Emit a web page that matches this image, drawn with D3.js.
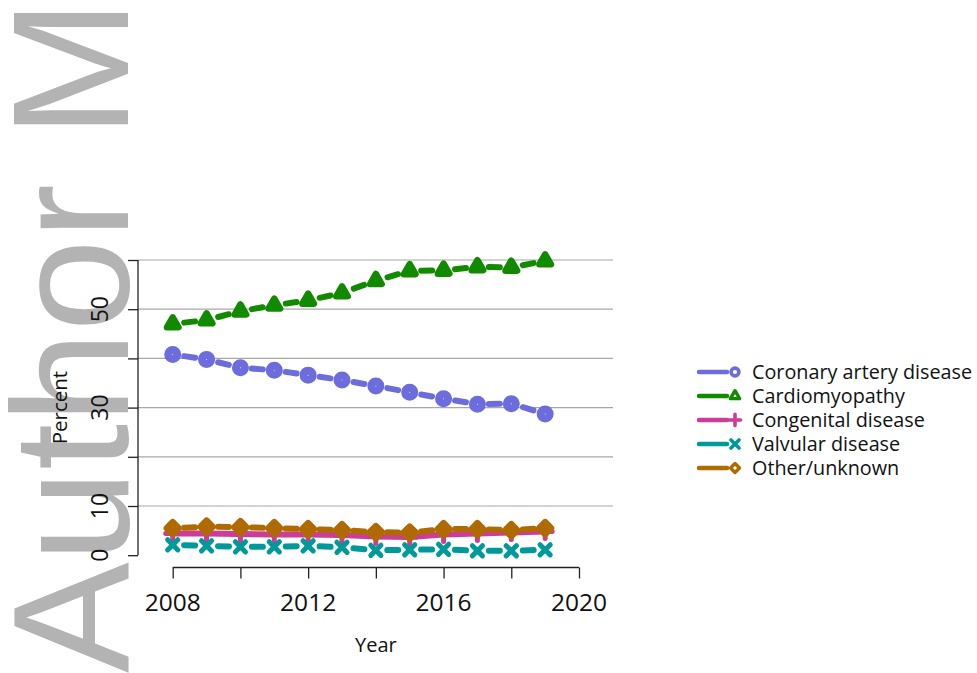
<!DOCTYPE html>
<html>
<head>
<meta charset="utf-8">
<script src="https://cdn.jsdelivr.net/npm/d3@7"></script>
<style>
  body { margin: 0; background: #ffffff; }
  svg { display: block; font-family: "Open Sans", "Noto Sans", sans-serif; }
  .watermark { font-family: "Liberation Sans", Arial, sans-serif; }
</style>
</head>
<body>
<svg id="chart" width="977" height="673"></svg>
<script>
// Share of recipients by primary diagnosis, per year
const years = [2008, 2009, 2010, 2011, 2012, 2013, 2014, 2015, 2016, 2017, 2018, 2019];
const coronary       = [40.8, 39.8, 38.1, 37.6, 36.6, 35.6, 34.4, 33.1, 31.8, 30.7, 30.8, 28.7];
const cardiomyopathy = [47.0, 47.8, 49.6, 50.8, 51.8, 53.3, 55.8, 57.8, 57.9, 58.6, 58.5, 59.8];
const congenital     = [4.4, 4.4, 4.3, 4.2, 4.2, 4.1, 3.8, 3.7, 4.2, 4.4, 4.6, 4.8];
const valvular       = [2.1, 1.9, 1.7, 1.7, 1.9, 1.6, 1.0, 1.1, 1.2, 0.9, 0.9, 1.1];
const other          = [5.5, 5.8, 5.7, 5.5, 5.3, 5.1, 4.7, 4.6, 5.3, 5.3, 5.1, 5.5];

const seriesNames = ["Coronary artery disease", "Cardiomyopathy", "Congenital disease", "Valvular disease", "Other/unknown"];
const seriesValues = [coronary, cardiomyopathy, congenital, valvular, other];
const seriesColors = ["#6c6cdc", "#128a00", "#cc3d96", "#009999", "#b06b00"];
const seriesShapes = ["circle", "triangle", "plus", "cross", "diamond"];
const seriesDashed = [true, true, false, true, true];

const xTicks = [2008, 2010, 2012, 2014, 2016, 2018, 2020];
const xTickLabels = [2008, 2012, 2016, 2020];
const yTicks = [0, 10, 20, 30, 40, 50, 60];
const yTickLabels = [0, 10, 30, 50];
const gridValues = [10, 20, 30, 40, 50, 60];

const svg = d3.select("#chart");

// Background watermark, rotated along the left edge
svg.append("text")
  .attr("class", "watermark")
  .attr("transform", "translate(128,673) rotate(-90)")
  .attr("font-size", 166)
  .attr("fill", "#b3b3b3")
  .text("Author Manuscript");

const x = d3.scaleLinear().domain([2008, 2020]).range([172.7, 579]);
const y = d3.scaleLinear().domain([0, 60]).range([555.2, 260]);

// Horizontal grid
svg.append("g")
  .selectAll("line")
  .data(gridValues)
  .join("line")
  .attr("x1", 138).attr("x2", 613)
  .attr("y1", d => y(d)).attr("y2", d => y(d))
  .attr("stroke", "#a8a8a8")
  .attr("stroke-width", 1.2);

// Y axis
const yAxis = svg.append("g").attr("transform", "translate(138,0)")
  .call(d3.axisLeft(y).tickValues(yTicks).tickSize(10).tickFormat(""));
yAxis.select(".domain").attr("d", `M0,${y(60)}V${y(0)}`).attr("stroke", "#222").attr("stroke-width", 1.3);
yAxis.selectAll(".tick line").attr("stroke", "#222").attr("stroke-width", 1.3);

svg.append("g")
  .selectAll("text")
  .data(yTickLabels)
  .join("text")
  .attr("transform", d => `translate(108,${y(d)}) rotate(-90)`)
  .attr("text-anchor", "middle")
  .attr("font-size", 23)
  .attr("fill", "#111")
  .text(d => d);

// X axis
const xAxis = svg.append("g").attr("transform", "translate(0,567.5)")
  .call(d3.axisBottom(x).tickValues(xTicks).tickSize(11).tickFormat(""));
xAxis.select(".domain").attr("d", `M${x(2008)},0H${x(2020)}`).attr("stroke", "#222").attr("stroke-width", 1.3);
xAxis.selectAll(".tick line").attr("stroke", "#222").attr("stroke-width", 1.3);

svg.append("g")
  .selectAll("text")
  .data(xTickLabels)
  .join("text")
  .attr("x", d => x(d))
  .attr("y", 611)
  .attr("text-anchor", "middle")
  .attr("font-size", 24.5)
  .attr("fill", "#111")
  .text(d => d);

// Axis titles
svg.append("text")
  .attr("x", (x(2008) + x(2020)) / 2).attr("y", 652)
  .attr("text-anchor", "middle").attr("font-size", 20).attr("fill", "#111")
  .text("Year");
svg.append("text")
  .attr("transform", `translate(67,${(y(0) + y(60)) / 2}) rotate(-90)`)
  .attr("text-anchor", "middle").attr("font-size", 20.5).attr("fill", "#111")
  .text("Percent");

// Marker paths, centred on the data point; k scales the size
function markerPath(shape, k) {
  const p = d3.path();
  if (shape === "circle") {
    const r = 4.5 * k;
    p.moveTo(r, 0); p.arc(0, 0, r, 0, 2 * Math.PI);
  } else if (shape === "triangle") {
    const u = 4.29 * k;
    p.moveTo(0, -1.555 * u); p.lineTo(1.347 * u, 0.778 * u); p.lineTo(-1.347 * u, 0.778 * u); p.closePath();
  } else if (shape === "plus") {
    const a = 7.0 * k;
    p.moveTo(-a, 0); p.lineTo(a, 0); p.moveTo(0, -a); p.lineTo(0, a);
  } else if (shape === "cross") {
    const a = 5.1 * k;
    p.moveTo(-a, -a); p.lineTo(a, a); p.moveTo(-a, a); p.lineTo(a, -a);
  } else if (shape === "diamond") {
    const d = 5.6 * k;
    p.moveTo(0, -d); p.lineTo(d, 0); p.lineTo(0, d); p.lineTo(-d, 0); p.closePath();
  }
  return p.toString();
}
const markerStroke = { circle: 8, triangle: 6.5, plus: 5, cross: 5, diamond: 7 };
const legendStroke = { circle: 3.6, triangle: 3.4, plus: 3.6, cross: 3.6, diamond: 3.4 };

const line = d3.line().x(d => x(d[0])).y(d => y(d[1]));
const plot = svg.append("g");

seriesValues.forEach((vals, i) => {
  const pts = years.map((yr, j) => [yr, vals[j]]);
  const g = plot.append("g");
  if (seriesDashed[i]) {
    // one dash centred in every interval between two years
    const segs = d3.pairs(pts);
    g.selectAll("path.seg")
      .data(segs)
      .join("path")
      .attr("class", "seg")
      .attr("d", s => line(s))
      .attr("fill", "none")
      .attr("stroke", seriesColors[i])
      .attr("stroke-width", 6)
      .attr("stroke-linecap", "round")
      .each(function (s) {
        const L = Math.hypot(x(s[1][0]) - x(s[0][0]), y(s[1][1]) - y(s[0][1]));
        const D = 11;
        d3.select(this)
          .attr("stroke-dasharray", `${D} ${L - D}`)
          .attr("stroke-dashoffset", -(L - D) / 2);
      });
  } else {
    g.append("path")
      .attr("d", line(pts))
      .attr("fill", "none")
      .attr("stroke", seriesColors[i])
      .attr("stroke-width", 6)
      .attr("stroke-linejoin", "round")
      .attr("stroke-linecap", "round");
  }
  g.selectAll("path.mk")
    .data(pts)
    .join("path")
    .attr("class", "mk")
    .attr("transform", d => `translate(${x(d[0])},${y(d[1])})`)
    .attr("d", markerPath(seriesShapes[i], 1))
    .attr("fill", "none")
    .attr("stroke", seriesColors[i])
    .attr("stroke-width", markerStroke[seriesShapes[i]])
    .attr("stroke-linejoin", "round")
    .attr("stroke-linecap", "round");
});

// Legend
const legend = svg.append("g")
  .selectAll("g")
  .data(seriesNames)
  .join("g")
  .attr("transform", (d, i) => `translate(0,${372 + i * 24})`);
legend.append("line")
  .attr("x1", 699).attr("x2", 727).attr("y1", 0).attr("y2", 0)
  .attr("stroke", (d, i) => seriesColors[i])
  .attr("stroke-width", 4.5)
  .attr("stroke-linecap", "round");
legend.append("path")
  .attr("transform", "translate(735,0)")
  .attr("d", (d, i) => markerPath(seriesShapes[i], seriesShapes[i] === "circle" ? 0.87 : 0.8))
  .attr("fill", "#fff")
  .attr("stroke", (d, i) => seriesColors[i])
  .attr("stroke-width", (d, i) => legendStroke[seriesShapes[i]])
  .attr("stroke-linejoin", "round")
  .attr("stroke-linecap", "round");
legend.append("text")
  .attr("x", 752).attr("y", 0).attr("dy", "0.35em")
  .attr("font-size", 19.8).attr("fill", "#111")
  .text(d => d);
</script>
</body>
</html>
